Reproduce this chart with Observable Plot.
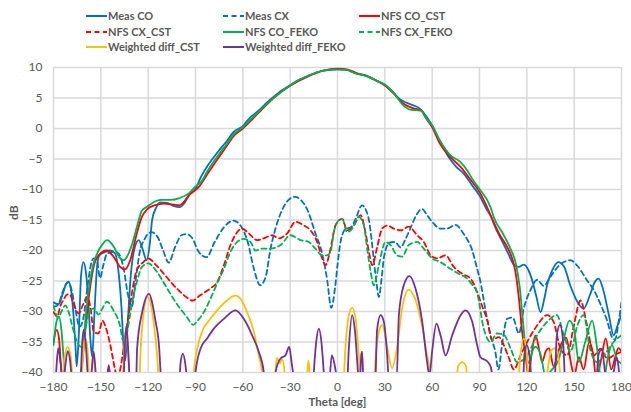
<!DOCTYPE html>
<html>
<head>
<meta charset="utf-8">
<script src="https://cdn.jsdelivr.net/npm/d3@7"></script>
<script src="https://cdn.jsdelivr.net/npm/@observablehq/plot@0.6"></script>
<style>
  html, body { margin: 0; padding: 0; background: #fff; }
  #wrap { position: relative; width: 631px; height: 412px; font-family: Lato, "Open Sans", sans-serif; }
  #legend { position: relative; width: 631px; height: 58px; }
  .item { position: absolute; display: flex; align-items: center; font-weight: bold; font-size: 11px; color: #595959; white-space: nowrap; line-height: 14px; }
  .item svg { margin-right: 1px; }
  #chart svg { display: block; }
</style>
</head>
<body>
<div id="wrap">
  <div id="legend"></div>
  <div id="chart"></div>
</div>
<script>
// ---------- data (theta [deg], dB) ----------
const xTicks = [-180, -150, -120, -90, -60, -30, 0, 30, 60, 90, 120, 150, 180];
const yTicks = [-40, -35, -30, -25, -20, -15, -10, -5, 0, 5, 10];

const measCO = [
  [-180,-29.2],[-178,-29.1],[-176,-28.5],[-174,-27],[-172,-25.5],[-170.5,-25.1],[-169,-26.3],[-167.5,-30],[-166,-36],[-165.3,-39],
  [-164,-34],[-162.5,-24],[-161,-21.9],[-159.5,-23.5],[-158,-28],[-156.5,-35],[-155.5,-37.4],[-154,-30],[-152.5,-23],[-151,-20.8],
  [-148,-20.3],[-144,-20],[-141,-20.5],[-139,-23],[-137,-29],[-135.5,-36],[-134.5,-38],[-133,-32],[-131,-24],[-128.5,-19.5],
  [-126,-18.3],[-123.5,-19.8],[-121,-21.6],[-119,-19],[-117.5,-15],[-115,-13],[-112.5,-12.1],[-108,-12.2],[-104,-12.7],[-100,-12.9],
  [-97,-12.2],[-94,-10.9],[-90,-9.9],[-87,-8.2],[-82,-6],[-76,-3.9],[-70,-2],[-66,-0.6],[-60,0.4],[-55,1.9],[-51,2.7],[-45,4.2],
  [-40,5.3],[-35,6.3],[-30,7.1],[-25,7.9],[-19,8.6],[-14,9.1],[-9,9.5],[-4,9.6],[0,9.7],[6,9.6],[9,9.3],[12,9.0],[18,8.7],[25,7.8],
  [30,7.1],[35,6.0],[40,4.7],[44,4.2],[48,3.8],[52,3.3],[56,2.1],[60,0.5],[65,-2.2],[70,-4.5],[75,-6.2],[80,-7.4],[85,-9.2],[90,-11],
  [94,-13],[97,-14.3],[100,-16.2],[104,-18.3],[108,-20.4],[112,-22.4],[115,-22.7],[118,-22.3],[121,-23.2],[123.5,-25],[126,-27.5],
  [128.7,-30.1],[131,-28],[133,-25.5],[136,-23.3],[140,-21.9],[143.5,-22.6],[147.5,-25.7],[152,-28.4],[156,-29.5],[160,-27.3],
  [163,-25.2],[165.5,-24.6],[168.5,-26.5],[172,-30.6],[175,-33.9],[177.5,-32.3],[180,-30.6]
];

const measCX = [
  [-180,-28.5],[-177,-28.8],[-174.5,-27],[-172,-25.5],[-170.5,-25.2],[-168.5,-26.5],[-166,-29.8],[-163.5,-32.5],[-161,-31],[-158.5,-26],
  [-156,-22],[-154.5,-21.3],[-152.5,-21.6],[-150.5,-24.5],[-148.5,-22.5],[-146,-20.5],[-141,-20.2],[-138.5,-20.6],[-135.5,-23],[-133,-27],
  [-130.5,-29.3],[-128,-25],[-125.5,-20.5],[-122,-18],[-118,-17],[-114,-17.8],[-110.5,-20],[-107,-22],[-103,-19.5],[-99,-17.5],
  [-96,-17.3],[-92,-18],[-88,-20.2],[-83,-21.1],[-78,-18.7],[-72,-16.2],[-66,-15.1],[-61.5,-15.9],[-57,-18.5],[-53,-23],[-49,-25.7],
  [-45.5,-24.3],[-42.5,-19.8],[-39.3,-16.4],[-35,-13.3],[-31,-11.7],[-27,-11.2],[-23,-11.8],[-19,-13.4],[-14,-17.2],[-9.7,-20.5],
  [-6.5,-24.9],[-4,-29.4],[-1.5,-26],[0,-22.4],[2,-18.5],[5,-16.5],[8.5,-16.2],[11.5,-14.8],[15.5,-12.6],[19.5,-14.5],[21.5,-18],
  [23,-21.6],[24.8,-25.5],[26.2,-27.6],[28,-24.5],[29.5,-21],[33,-18.7],[36.5,-18.6],[40,-19.5],[43,-18.2],[46.3,-16.3],[50,-14.2],
  [53.5,-13.2],[57,-14.3],[61,-15.6],[65.3,-16.4],[69.5,-16.4],[74.8,-15.8],[80,-17.3],[85.4,-20],[88.5,-23],[90.5,-25],[93.8,-29.8],
  [97,-33.9],[100,-36.6],[102,-39.5],[104.5,-35],[107.5,-31.2],[111,-31],[115,-33.6],[118,-29.6],[122.3,-26.5],[126.5,-24.8],
  [130.7,-25.8],[135,-24.3],[140.3,-22.5],[147.7,-21.6],[152,-22.5],[158.2,-24.9],[162.5,-26.5],[166.7,-28.8],[171,-31.6],[174,-34.2],
  [176,-34.6],[178,-32],[180,-28.5]
];

const nfsCOcst = [
  [-180,-35],[-178,-33],[-176.5,-34.5],[-175,-40],[-174,-43],[-165,-43],[-163,-41],[-162,-39],[-160,-33.6],[-157.8,-28.1],
  [-154.6,-22.7],[-151.5,-20.8],[-146.2,-20],[-142,-21],[-137.7,-22.7],[-134.6,-23.1],[-131.4,-21.6],[-127.2,-17.2],[-124,-14.5],
  [-120.5,-13.2],[-116,-12.6],[-110,-12.3],[-104,-12.5],[-100,-12.6],[-94,-10.9],[-88,-9.6],[-82,-7.3],[-76,-5],[-70,-2.8],[-66,-1.3],
  [-60,0],[-51,2.3],[-40.5,5.0],[-30,7.0],[-19,8.5],[-9,9.5],[0,9.8],[6,9.7],[12,9.1],[18.6,8.6],[25,7.8],[30,7.1],[35,5.9],
  [41.7,4.1],[46,3.5],[50,3.2],[53,3.0],[56,1.7],[60,0.2],[65,-2.5],[71.6,-4.7],[78,-6.3],[84,-8.3],[90,-10.4],[95,-13],[97,-14.2],
  [103,-17.5],[107.5,-19.4],[110.7,-21.3],[112.8,-23.5],[115,-27.9],[117,-33.3],[119.2,-37.2],[121,-40.5],[123,-37],[125.5,-33.9],
  [128,-36.5],[129.7,-38.3],[132,-36.5],[134,-36],[137,-39],[140,-36.5],[142.5,-35],[145,-34.3],[148,-38.5],[150,-40.5],[153,-37.5],
  [156,-39.5],[159.5,-35],[162,-37],[164,-41],[167,-38],[170,-34.4],[173.5,-39.5],[176,-37.5],[178,-36],[180,-36.6]
];

const nfsCXcst = [
  [-180,-30.1],[-177.7,-30.8],[-175.5,-29],[-173.5,-28],[-171,-27.2],[-169.4,-27.3],[-167,-29],[-164,-30.3],[-161.5,-29],[-158.5,-27.6],
  [-156.5,-29.5],[-154.5,-33.3],[-151.5,-33.6],[-149,-31.5],[-147,-32.5],[-144,-35.5],[-141,-39.5],[-139.5,-41],[-137,-38.5],[-134.5,-34],
  [-132,-30],[-130.3,-27],[-127.2,-23.2],[-123,-21.9],[-120,-21.3],[-115,-22.4],[-108.5,-24.3],[-102,-26.2],[-96,-27.6],[-92,-28.2],
  [-86.8,-27.3],[-80.5,-26.2],[-76.3,-25.2],[-72,-22.4],[-67.8,-19.1],[-63.6,-17],[-60.4,-16.4],[-56.2,-17.2],[-51,-18.3],[-46.7,-18.0],
  [-41.4,-17.5],[-37.2,-18],[-31.9,-17.2],[-26.6,-15.3],[-21.3,-15.9],[-17.1,-16.7],[-12.9,-18.6],[-9.7,-21.3],[-7.6,-22.4],[-4.4,-19.7],
  [-1.3,-15.9],[3,-14.8],[6.1,-16.7],[10.4,-15.9],[14.6,-14.2],[17.7,-17],[19.9,-20.2],[22,-22.4],[25.1,-19.5],[28.3,-16.4],[31.5,-15.9],
  [35.7,-16.4],[39.9,-16.7],[45.2,-16.1],[50.5,-17.5],[54.7,-18.6],[59,-20.8],[63.2,-21.3],[68.5,-20.8],[73.7,-22.7],[79,-23.8],
  [84.3,-24.6],[88.5,-26.8],[91.5,-29],[94.9,-31.4],[98,-34.7],[102.3,-34.2],[105.4,-35.5],[108.5,-37.5],[111.8,-39.5],[116,-37.2],
  [120.2,-35],[126.5,-32.3],[132.9,-30.6],[137,-31.7],[141.3,-36.1],[145.6,-37.2],[149.8,-32.3],[154,-28.2],[158.2,-32.3],[162.5,-37.2],
  [166.7,-36.1],[171,-37.7],[175,-37.2],[180,-36.6]
];

const nfsCOfeko = [
  [-180,-35.5],[-178,-31.5],[-176.5,-30.8],[-175,-33],[-173.5,-38],[-172,-43],[-164,-43],[-162,-39],[-160,-32],[-158,-27],[-155,-22.5],
  [-152,-20.3],[-149,-19],[-146,-18.3],[-142,-19.3],[-138,-21.2],[-135.5,-21.6],[-133,-20.8],[-130,-18.8],[-127,-16],[-124,-13.5],
  [-120.5,-12.8],[-116,-12.0],[-112,-11.7],[-106,-11.7],[-100,-11.4],[-94,-10.6],[-90,-9.5],[-86,-8.6],[-82,-6.8],[-76,-4.5],[-70,-2.5],
  [-66,-1.0],[-60,0.2],[-51,2.5],[-40,5.1],[-30,7.1],[-19,8.6],[-9,9.5],[0,9.7],[6,9.6],[12,9.0],[18.6,8.6],[25,7.8],[30,7.2],[35,6.0],
  [41.7,3.8],[46,3.1],[50,3.0],[53,2.9],[56,1.8],[60,0.5],[65,-2.0],[71.6,-4.4],[78,-5.5],[82,-6.8],[86,-8.5],[90,-9.9],[97,-12.9],
  [99,-14.5],[105.4,-17.5],[109.6,-19.7],[112.8,-21.9],[115.6,-26.2],[117,-30],[119.2,-36],[121.5,-38.5],[123.5,-36.5],[125.5,-35.8],
  [128.7,-37],[131.8,-40.5],[136,-39.5],[140,-38],[143,-35],[147,-31.5],[150,-33],[153,-38.3],[157,-35],[161.4,-31.5],[164.5,-36],
  [166.7,-40.5],[169,-41],[171,-38],[174,-35.5],[177.3,-38],[180,-38.5]
];

const nfsCXfeko = [
  [-180,-29],[-177,-31],[-175,-30],[-172.5,-29],[-170.5,-30],[-168,-32.5],[-165,-35],[-162.5,-35.8],[-160,-33],[-157,-30],[-154.5,-29.5],
  [-151.5,-30.5],[-149,-29.5],[-146.2,-28.4],[-142,-29.8],[-137.7,-32.5],[-136,-34.7],[-133.5,-33.5],[-130.3,-28.7],[-127,-25],[-124,-22.7],
  [-119.8,-22.1],[-115,-23.3],[-108.5,-26],[-102,-28.7],[-95.5,-30.9],[-91.3,-32.2],[-89,-31.6],[-84.7,-30.1],[-80.5,-27.9],[-76.3,-25.4],
  [-72,-23],[-67.8,-20.2],[-63.6,-18.6],[-59.4,-18.1],[-55.1,-18.6],[-52,-20],[-47.7,-19.7],[-42.5,-19.7],[-36.1,-19.1],[-29.8,-17.5],
  [-23.5,-18.3],[-18.2,-18.6],[-14,-19.7],[-9.7,-20.8],[-6.6,-20.8],[-4.4,-20.2],[-2.3,-17],[0,-15.3],[3,-14.8],[6.1,-17],[9.3,-16.4],
  [13.5,-14.5],[16.7,-15.9],[18.8,-19.7],[21,-23.5],[23,-25.7],[26.2,-22.4],[30.4,-18.6],[33.6,-19.1],[37.8,-20.8],[41,-21],[45.2,-19.1],
  [50.5,-18.6],[54.7,-19.7],[60,-21.3],[65.3,-21.9],[71.6,-23],[76.8,-23.8],[82.1,-24.6],[85,-25.5],[88.5,-27],[92.7,-32.8],[97,-35],
  [101,-33.6],[105.4,-33.8],[109.6,-36],[113.9,-38.3],[120.2,-37.2],[126.5,-33.9],[132.9,-31.7],[139,-30.6],[143.5,-33.9],[147.7,-36.6],
  [152,-32.3],[156,-30.6],[160,-36.1],[164.6,-38.3],[168.8,-37.2],[175,-35],[180,-33.9]
];

const wdiffCST = [
  [-180,-45],[-174.5,-42],[-173,-37.5],[-171,-35.8],[-169,-37.5],[-167.5,-42],[-162.5,-42],[-161,-36],[-160,-34.2],[-158.5,-36],
  [-157,-42],[-156,-41],[-154.6,-36.6],[-153,-42],[-137,-45],[-135.5,-38],[-134,-32.5],[-132.5,-38],[-131,-45],[-126,-45],[-124.9,-37],
  [-122.8,-30],[-120.5,-27.6],[-118.5,-28.5],[-116.4,-32],[-114.3,-37.2],[-113,-42],[-92,-45],[-91,-40],[-88.9,-36.1],[-85.8,-33.3],
  [-80.5,-31.2],[-75.2,-29.5],[-71,-28.4],[-64.6,-27.4],[-61.5,-27.9],[-57.3,-30.1],[-53,-33.3],[-49.9,-37.2],[-47.7,-40],[-46.5,-43],
  [-40,-42],[-38.5,-37.6],[-36.5,-38.5],[-35,-37.8],[-33.5,-40],[-32.5,-43],[-20,-43],[-18.5,-38],[-17.5,-40.5],[-16.5,-43],[3,-45],
  [5,-36],[7.2,-30.6],[9.3,-29.4],[11.4,-31],[13.5,-37.2],[14.6,-41],[23,-41],[24.5,-36.5],[26.2,-33.3],[28.3,-32.2],[31.5,-35.8],
  [34.6,-39.3],[37.8,-35.8],[41,-29.4],[45.2,-26.4],[49.4,-28.1],[53.7,-32.5],[56.8,-37.2],[59,-40.5],[60,-45],[74,-45],[76.5,-39],
  [79,-38.3],[81.5,-39],[83,-45],[114,-45],[115.5,-38.5],[118,-34.5],[120,-37],[121.5,-45],[131,-45],[133,-40],[135.6,-36.3],
  [138.5,-36],[141,-40],[142,-45],[180,-45]
];

const wdiffFEKO = [
  [-180,-45],[-178.5,-40.5],[-177,-36],[-175.5,-38.5],[-174,-42],[-173,-40],[-171,-36.5],[-169.5,-38],[-168,-42],[-163,-42],[-162,-36],
  [-161,-33],[-159.5,-35.5],[-158,-41],[-156,-40],[-154.6,-36.6],[-153,-41],[-152,-45],[-146.5,-42],[-145,-38.8],[-143.5,-42],[-136,-45],
  [-135,-37],[-133.8,-32.4],[-132.5,-37],[-131,-45],[-128,-45],[-127,-36],[-123.8,-30.1],[-119.4,-27.1],[-117.5,-28.5],[-115.4,-31.5],
  [-113,-36],[-112,-40.5],[-110,-45],[-101,-45],[-99.5,-38.5],[-98,-36.9],[-96.5,-38.5],[-95,-42],[-91,-45],[-90,-40],[-86.8,-36.1],
  [-82.6,-34.4],[-78.4,-32.8],[-72,-31.2],[-64.6,-29.8],[-59.4,-31.2],[-54.1,-33.9],[-49.9,-36.6],[-46.7,-40],[-45.5,-43],[-40,-43],
  [-39.3,-40],[-36.1,-37.7],[-33,-37.2],[-30.6,-35.8],[-29,-38.5],[-27.7,-41],[-26,-45],[-16,-45],[-15,-40],[-13.5,-35],[-11.8,-32.8],
  [-10.2,-35],[-8.7,-40],[-7.5,-45],[-5.5,-43],[-3.6,-37.2],[-2,-38.5],[-0.5,-41],[1,-45],[5.5,-45],[7.2,-36],[9.3,-30.6],[11,-33],
  [13,-40],[14,-43],[15.1,-37],[15.6,-36.6],[16.2,-40],[17,-45],[23.5,-45],[25.1,-33],[27.3,-30.6],[29.4,-31.7],[31.5,-37.2],[32.5,-41],
  [37.5,-41],[38.9,-30.6],[42,-25.7],[45.6,-24.2],[49.4,-26.2],[53.7,-31.7],[56.8,-38.3],[58.3,-40.5],[60,-36.5],[62.7,-32],[65.3,-33.9],
  [68.5,-37.2],[72.7,-33.9],[78,-30.6],[81.1,-29.8],[85.4,-31.7],[88.5,-35.5],[90.6,-37.5],[95,-38.2],[97,-39],[98,-40.5],[99,-45],
  [117,-45],[118.5,-37],[120,-35.5],[122,-38],[124,-45],[137,-45],[139,-34],[141,-32.2],[143,-35],[145,-45],[163,-45],[165.5,-37],
  [167.5,-36.2],[169.5,-40],[171,-45],[175,-40],[177,-37.5],[178.5,-40],[180,-45]
];

// ---------- series styling ----------
const DASH = "5,3.5";
const series = [
  {name: "Meas CO",            data: measCO,    color: "#0070C0", dash: null},
  {name: "Meas CX",            data: measCX,    color: "#0070C0", dash: DASH},
  {name: "NFS CO_CST",         data: nfsCOcst,  color: "#FF0000", dash: null},
  {name: "NFS CX_CST",         data: nfsCXcst,  color: "#FF0000", dash: DASH},
  {name: "NFS CO_FEKO",        data: nfsCOfeko, color: "#00B050", dash: null},
  {name: "NFS CX_FEKO",        data: nfsCXfeko, color: "#00B050", dash: DASH},
  {name: "Weighted diff_CST",  data: wdiffCST,  color: "#FFC000", dash: null},
  {name: "Weighted diff_FEKO", data: wdiffFEKO, color: "#7030A0", dash: null}
];

// ---------- legend (HTML, above the SVG) ----------
const legendPos = [
  [86, 16], [223, 16], [359, 16],
  [86, 32], [223, 32], [359, 32],
  [86, 47], [223, 47]
];
const legend = document.getElementById("legend");
series.forEach((s, i) => {
  const [lx, ly] = legendPos[i];
  const it = document.createElement("div");
  it.className = "item";
  it.style.left = lx + "px";
  it.style.top = (ly - 7) + "px";
  it.innerHTML = `<svg width="21" height="4"><line x1="0" y1="2" x2="21" y2="2" stroke="${s.color}" stroke-width="2" ${s.dash ? `stroke-dasharray="${s.dash}"` : ""}/></svg><span>${s.name}</span>`;
  legend.appendChild(it);
});

// ---------- chart ----------
const lineMarks = series.map(s => Plot.line(s.data, {
  x: d => d[0], y: d => d[1],
  stroke: s.color, strokeWidth: 1.8,
  strokeDasharray: s.dash || undefined,
  curve: "monotone-x", clip: true
}));

const chart = Plot.plot({
  width: 631,
  height: 354,
  marginTop: 9,
  marginBottom: 40,
  marginLeft: 53,
  marginRight: 10,
  style: {fontFamily: "Lato, 'Open Sans', sans-serif", fontSize: "12px", color: "#595959", background: "#fff"},
  x: {domain: [-180, 180]},
  y: {domain: [-40, 10]},
  marks: [
    Plot.gridX(xTicks, {stroke: "#d9d9d9", strokeOpacity: 1, strokeWidth: 1.5}),
    Plot.gridY(yTicks, {stroke: "#d9d9d9", strokeOpacity: 1, strokeWidth: 1.5}),
    Plot.axisX(xTicks, {tickSize: 0, tickPadding: 10, label: null, fill: "#595959", fontSize: 12}),
    Plot.axisY(yTicks, {tickSize: 0, tickPadding: 11, label: null, fill: "#595959", fontSize: 12}),
    ...lineMarks,
    Plot.text(["Theta [deg]"], {frameAnchor: "bottom", dy: 33.5, fontWeight: "bold", fill: "#595959", fontSize: 11.5}),
    Plot.text(["dB"], {frameAnchor: "left", dx: -39, rotate: -90, fontWeight: "bold", fill: "#595959", fontSize: 12})
  ]
});
document.getElementById("chart").appendChild(chart);
</script>
</body>
</html>
